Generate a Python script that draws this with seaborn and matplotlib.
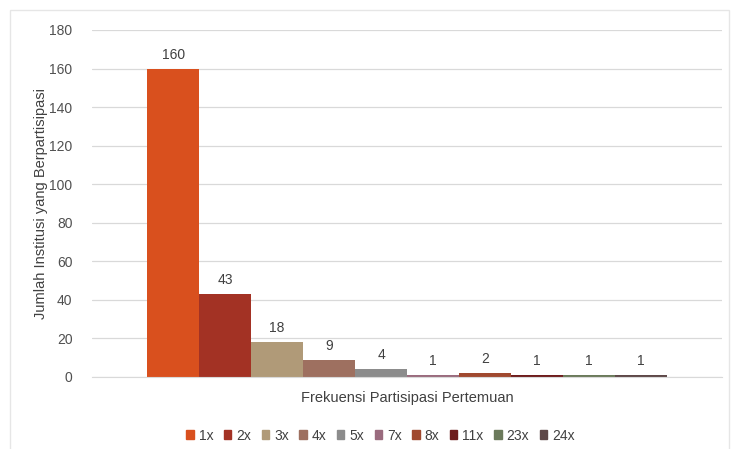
import matplotlib; matplotlib.use('Agg')
import pandas as pd
import seaborn as sns
import matplotlib.pyplot as plt
from matplotlib.patches import Rectangle

# data
freq_labels = ['1x', '2x', '3x', '4x', '5x', '7x', '8x', '11x', '23x', '24x']
counts = [160, 43, 18, 9, 4, 1, 2, 1, 1, 1]
bar_colors = ['#D9501E', '#A33224', '#B09A78', '#9E7060', '#8C8C8C',
              '#9A6B7E', '#A0492F', '#6E1C1C', '#6B7A5B', '#5E4848']
x_title = 'Frekuensi Partisipasi Pertemuan'
y_title = 'Jumlah Institusi yang Berpartisipasi'

df = pd.DataFrame({'grp': [x_title] * len(freq_labels),
                   'freq': freq_labels, 'count': counts})

sns.set_style('white')
plt.rcParams['font.family'] = ['Liberation Sans', 'DejaVu Sans']

fig = plt.figure(figsize=(7.33, 4.49), dpi=100)
ax = fig.add_axes([0.1255, 0.1604, 0.8595, 0.7728])

sns.barplot(data=df, x='grp', y='count', hue='freq', hue_order=freq_labels,
            palette=bar_colors, width=0.825, saturation=1, linewidth=0,
            ax=ax, legend=False)

for cont in ax.containers:
    ax.bar_label(cont, padding=5, fontsize=10, color='#404040')

ax.set_ylim(0, 180)
ax.set_yticks(range(0, 181, 20))
ax.tick_params(axis='y', length=0, labelsize=10, labelcolor='#505050', pad=14)
ax.set_xticks([])
ax.set_xlabel(x_title, fontsize=10.5, color='#404040', labelpad=10)
ax.set_ylabel(y_title, fontsize=10.5, color='#404040', labelpad=1)
ax.yaxis.grid(True, color='#d9d9d9', linewidth=0.9)
ax.set_axisbelow(True)
for s in ['top', 'right', 'left']:
    ax.spines[s].set_visible(False)
ax.spines['bottom'].set_color('#d9d9d9')

handles = [Rectangle((0, 0), 1, 1, color=c) for c in bar_colors]
fig.legend(handles, freq_labels, loc='center', bbox_to_anchor=(0.519, 0.03),
           ncol=len(freq_labels), frameon=False, fontsize=10,
           handlelength=0.55, handleheight=0.55, handletextpad=0.35,
           columnspacing=0.75, labelcolor='#404040')

# faint outer frame
fig.patches.append(Rectangle((0.014, -0.01), 0.98, 0.988, transform=fig.transFigure,
                             fill=False, edgecolor='#e6e6e6', linewidth=1))

fig.savefig('out.png', dpi=100)
